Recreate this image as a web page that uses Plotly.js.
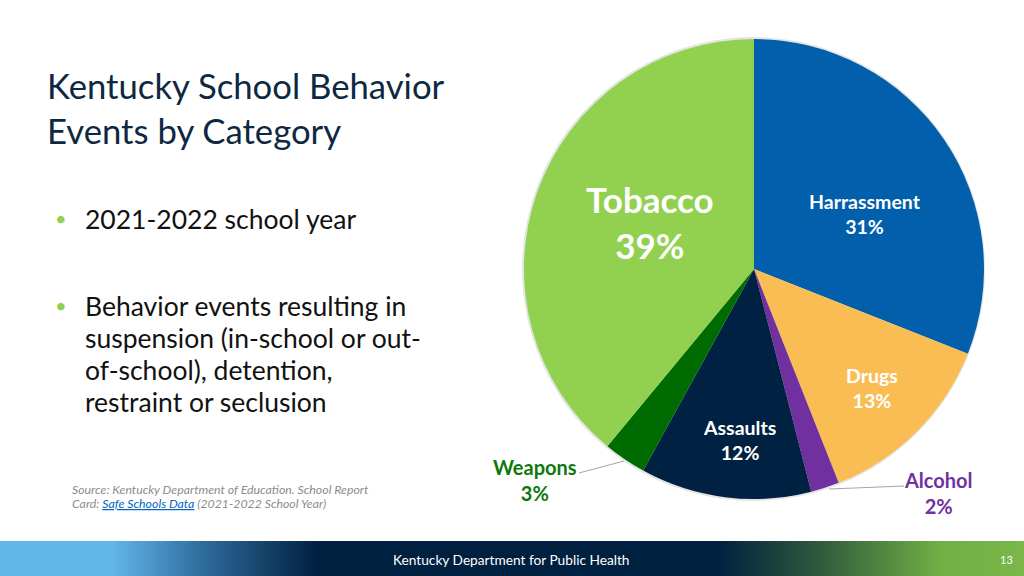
<!DOCTYPE html>
<html>
<head>
<meta charset="utf-8">
<script src="https://cdn.plot.ly/plotly-3.0.1.min.js"></script>
<style>
  html, body { margin: 0; padding: 0; background: #ffffff; }
  #slide { position: relative; width: 1024px; height: 576px; overflow: hidden; }
  #footer {
    position: absolute; left: 0; top: 541px; width: 1024px; height: 35px;
    background: linear-gradient(to right, #62b6ea 0%, #62b6ea 11%, #2d6a9a 20%, #00203f 31%,
      #00203f 70%, #2f5a3c 80%, #72b044 92%, #7ab648 100%);
  }
  #plot { position: absolute; left: 0; top: 0; width: 1024px; height: 576px; }
</style>
</head>
<body>
<div id="slide">
  <div id="footer"></div>
  <div id="plot"></div>
</div>
<script>
// data
let categories = ["Harrassment", "Drugs", "Alcohol", "Assaults", "Weapons", "Tobacco"];
let shares = [31, 13, 2, 12, 3, 39];
let sliceColors = ["#015fab", "#fabd53", "#7030a0", "#012142", "#006b00", "#92d050"];

// label placement (pixels) and looks
let labelX = [865, 872, 938, 739, 535, 650];
let labelY = [214, 388, 493, 440, 480, 222];
let labelSize = [19.5, 19.5, 20, 19.5, 20, 35];
let labelColor = ["#ffffff", "#ffffff", "#7030a0", "#ffffff", "#0b7a0b", "#ffffff"];

const W = 1024, H = 576;
function px(x) { return x / W; }
function py(y) { return 1 - y / H; }

// pie circle in pixels
let cx = 754, cy = 269, r = 230;

let trace1 = {
    type: "pie",
    labels: categories,
    values: shares,
    sort: false,
    direction: "clockwise",
    rotation: 0,
    textinfo: "none",
    hoverinfo: "label+percent",
    marker: { colors: sliceColors, line: { width: 0 } },
    domain: { x: [px(cx - r), px(cx + r)], y: [py(cy + r), py(cy - r)] }
};

let font = "Lato, 'Open Sans', sans-serif";
let annotations = [];

// slice labels
categories.forEach(function (c, i) {
    annotations.push({
        xref: "paper", yref: "paper", x: px(labelX[i]), y: py(labelY[i]),
        text: "<b>" + c + "<br>" + shares[i] + "%</b>",
        showarrow: false, align: "center", xanchor: "center", yanchor: "middle",
        font: { family: font, size: labelSize[i], color: labelColor[i] }
    });
});

// title
annotations.push({
    xref: "paper", yref: "paper", x: px(45), y: py(63),
    text: "Kentucky School Behavior<br>Events by Category",
    showarrow: false, align: "left", xanchor: "left", yanchor: "top",
    font: { family: font, size: 34.7, color: "#0e2841" }
});

// bullets
let bullet1 = ["2021-2022 school year"];
let bullet2 = ["Behavior events resulting in", "suspension (in-school or out-", "of-school), detention,", "restraint or seclusion"];
function addLine(t, y) {
    annotations.push({
        xref: "paper", yref: "paper", x: px(83), y: py(y), text: t,
        showarrow: false, xanchor: "left", yanchor: "middle",
        font: { family: font, size: 26.5, color: "#111111" }
    });
}
addLine(bullet1[0], 219);
bullet2.forEach(function (t, i) { addLine(t, 306 + i * 32); });
[218, 305].forEach(function (y) {
    annotations.push({
        xref: "paper", yref: "paper", x: px(61), y: py(y), text: "•",
        showarrow: false, xanchor: "center", yanchor: "middle",
        font: { family: font, size: 20, color: "#92d050" }
    });
});

// source, two lines
let sourceLines = [
    "<i>Source: Kentucky Department of Education. School Report</i>",
    "<i>Card: <span style='color:#0563c1'><u>Safe Schools Data</u></span> (2021-2022 School Year)</i>"
];
sourceLines.forEach(function (t, i) {
    annotations.push({
        xref: "paper", yref: "paper", x: px(70), y: py(489 + i * 14.5), text: t,
        showarrow: false, align: "left", xanchor: "left", yanchor: "middle",
        font: { family: font, size: 12.3, color: "#8c8c8c" }
    });
});

// footer text
annotations.push({
    xref: "paper", yref: "paper", x: px(511), y: py(559),
    text: "Kentucky Department for Public Health",
    showarrow: false, xanchor: "center", yanchor: "middle",
    font: { family: font, size: 13.7, color: "#ffffff" }
});
annotations.push({
    xref: "paper", yref: "paper", x: px(1006), y: py(559), text: "13",
    showarrow: false, xanchor: "center", yanchor: "middle",
    font: { family: font, size: 11, color: "#ffffff" }
});

let shapes = [
    // soft shadow round the pie
    { type: "circle", xref: "paper", yref: "paper", layer: "below",
      x0: px(cx - r - 2), x1: px(cx + r + 1), y0: py(cy + r + 2), y1: py(cy - r - 2),
      fillcolor: "rgba(0,0,0,0.10)", line: { width: 0 } },
    // leader lines
    { type: "line", xref: "paper", yref: "paper", x0: px(579), y0: py(473), x1: px(624), y1: py(461),
      line: { color: "#a6a6a6", width: 1 } },
    { type: "line", xref: "paper", yref: "paper", x0: px(829), y0: py(489), x1: px(904), y1: py(486),
      line: { color: "#a6a6a6", width: 1 } }
];

let layout = {
    width: W, height: H,
    margin: { l: 0, r: 0, t: 0, b: 0 },
    paper_bgcolor: "rgba(0,0,0,0)",
    plot_bgcolor: "rgba(0,0,0,0)",
    showlegend: false,
    annotations: annotations,
    shapes: shapes
};

Plotly.newPlot("plot", [trace1], layout, { displayModeBar: false, staticPlot: true });
</script>
</body>
</html>
